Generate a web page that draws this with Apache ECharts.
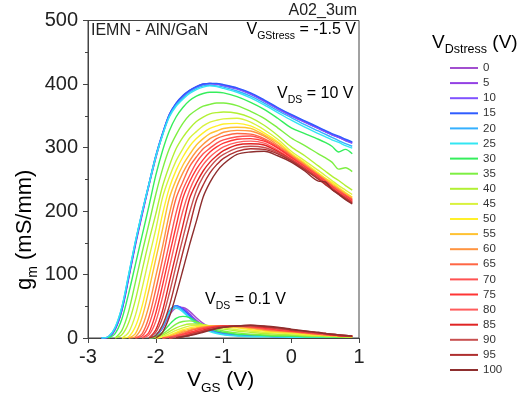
<!DOCTYPE html>
<html>
<head>
<meta charset="utf-8">
<script src="https://cdn.jsdelivr.net/npm/echarts@6/dist/echarts.min.js"></script>
<style>
html,body{margin:0;padding:0;background:#fff;}
#c{width:521px;height:408px;}
</style>
</head>
<body>
<div id="c"></div>
<script>
// Gate voltage grid (V)
const vgs = [-2.9,-2.8,-2.7,-2.6,-2.5,-2.4,-2.3,-2.2,-2.1,-2.0,-1.9,-1.8,-1.7,-1.6,-1.5,-1.4,-1.3,-1.2,-1.1,-1.0,-0.8,-0.6,-0.4,-0.2,0,0.2,0.4,0.5,0.6,0.7,0.8,0.9];
// Drain stress voltages (legend)
const stress = [0,5,10,15,20,25,30,35,40,45,50,55,60,65,70,75,80,85,90,95,100];
const xTicks = [-3,-2,-1,0,1];
const yTicks = [0,100,200,300,400,500];

// gm (mS/mm) at VDS = 10 V
const up0   = [0,0,1,13,43,93,146,194,240,283,320,350,368,380,389,395,399,401,400,398,393,384,373,361,350,340,330,325,320,316,311,307];
const up5   = [0,0,1,14,44,95,148,196,241,284,321,351,369,381,390,396,400,401,400,398,393,385,374,362,351,341,331,326,321,316,312,308];
const up10  = [0,0,1,14,45,96,149,197,242,286,322,352,369,381,389,395,399,400,400,397,392,384,373,361,350,340,330,325,320,316,311,307];
const up15  = [0,0,2,15,46,97,150,198,243,287,322,352,370,382,390,396,400,401,401,399,394,386,375,363,352,342,332,327,322,318,313,309];
const up20  = [0,0,2,16,48,99,152,199,243,286,321,350,367,378,387,393,397,398,397,395,389,381,370,358,347,336,326,321,316,311,306,302];
const up25  = [0,0,2,17,49,100,152,199,242,285,319,348,365,376,385,391,395,397,396,393,387,378,367,355,343,332,322,317,312,308,303,299];
const up30  = [0,0,0,7,30,70,116,162,208,256,295,326,348,363,374,381,385,387,387,386,380,371,360,346,331,322,313,308,302,293,297,290];
const up35  = [0,0,0,0,12,42,88,135,180,226,266,298,320,338,351,359,365,368,370,370,366,357,346,331,315,303,290,284,277,266,268,262];
const up40  = [0,0,0,0,5,24,60,107,153,195,239,271,298,316,330,341,348,353,355,356,354,347,335,319,301,287,271,263,255,248,240,233];
const up45  = [0,0,0,0,0,9,36,79,126,171,221,253,279,298,315,325,334,340,343,345,346,340,328,313,294,279,264,256,248,240,233,226];
const up50  = [0,0,0,0,0,2,18,51,97,144,195,236,264,285,302,314,323,330,334,337,338,334,323,309,291,276,260,252,245,237,229,222];
const up55  = [0,0,0,0,0,0,7,33,76,124,171,220,249,272,289,304,314,322,326,330,332,330,320,307,289,274,258,251,243,235,228,221];
const up60  = [0,0,0,0,0,0,2,18,51,97,144,195,235,260,279,294,305,314,319,324,327,326,318,304,288,273,257,249,241,234,226,219];
const up65  = [0,0,0,0,0,0,0,7,33,76,124,176,220,246,270,285,298,306,314,318,322,321,314,302,286,271,256,248,240,232,225,218];
const up70  = [0,0,0,0,0,0,0,3,21,56,102,149,197,233,256,276,290,299,307,312,317,318,312,300,285,270,255,247,239,231,224,217];
const up75  = [0,0,0,0,0,0,0,0,9,39,83,130,176,220,246,266,281,293,301,307,313,314,310,299,284,269,254,246,238,230,223,216];
const up80  = [0,0,0,0,0,0,0,0,5,26,64,110,157,200,233,256,273,285,294,301,308,310,307,296,282,268,253,245,237,229,222,215];
const up85  = [0,0,0,0,0,0,0,0,0,13,43,88,133,177,220,244,263,277,287,295,304,306,304,294,281,267,252,244,236,228,221,214];
const up90  = [0,0,0,0,0,0,0,0,0,9,32,70,114,157,198,232,254,269,281,289,299,302,300,292,280,266,251,243,235,227,220,213];
const up95  = [0,0,0,0,0,0,0,0,0,4,20,50,92,135,176,217,241,260,273,283,294,298,297,290,279,265,250,242,234,227,219,212];
const up100 = [0,0,0,0,0,0,0,0,0,0,9,33,68,107,147,184,222,245,262,274,289,293,294,287,277,263,247,246,234,226,218,211];

// gm (mS/mm) at VDS = 0.1 V
const lo0   = [0,0,0,0,0,0,0,0,0,3,15,36,47,48,42,32,23,16,11,8,5,4,3,3,2,2,2,1,1,1,1,1];
const lo5   = [0,0,0,0,0,0,0,0,0,3,16,39,50,47,38,28,20,14,10,7,5,4,3,2,2,2,1,1,1,1,1,1];
const lo10  = [0,0,0,0,0,0,0,0,0,3,17,41,51,46,36,26,19,13,9,7,5,4,3,2,2,2,1,1,1,1,1,1];
const lo15  = [0,0,0,0,0,0,0,0,0,4,18,42,51,45,35,25,18,12,9,6,4,3,3,2,2,2,1,1,1,1,1,1];
const lo20  = [0,0,0,0,0,0,0,0,0,4,19,42,50,43,33,24,17,12,8,6,4,3,3,2,2,1,1,1,1,1,1,1];
const lo25  = [0,0,0,0,0,0,0,0,0,4,18,40,47,41,31,22,15,10,7,5,3,2,2,2,1,1,1,1,1,1,1,1];
const lo30  = [0,0,0,0,0,0,0,0,0,2,9,21,31,34,32,26,20,15,11,9,6,5,4,3,3,2,2,2,2,1,1,1];
const lo35  = [0,0,0,0,0,0,0,0,0,1,6,14,22,26,27,25,21,17,14,11,8,6,5,4,4,3,3,2,2,2,2,1];
const lo40  = [0,0,0,0,0,0,0,0,0,0,4,10,16,20,22,22,21,19,16,14,11,9,7,6,5,4,3,3,3,2,2,2];
const lo45  = [0,0,0,0,0,0,0,0,0,0,2,7,12,16,19,20,20,19,18,16,13,11,9,8,7,5,4,4,3,3,2,2];
const lo50  = [0,0,0,0,0,0,0,0,0,0,1,4,9,13,16,18,19,19,19,18,16,13,11,9,8,6,5,4,4,3,3,2];
const lo55  = [0,0,0,0,0,0,0,0,0,0,0,3,7,11,14,16,18,19,19,19,17,15,12,10,9,7,5,5,4,3,3,2];
const lo60  = [0,0,0,0,0,0,0,0,0,0,0,2,5,9,12,15,17,18,19,19,18,16,13,11,10,8,6,5,4,4,3,2];
const lo65  = [0,0,0,0,0,0,0,0,0,0,0,1,4,7,11,14,16,18,19,19,19,17,14,12,10,8,6,5,5,4,3,3];
const lo70  = [0,0,0,0,0,0,0,0,0,0,0,1,3,6,9,12,15,17,18,19,19,18,15,13,11,9,7,6,5,4,3,3];
const lo75  = [0,0,0,0,0,0,0,0,0,0,0,0,2,5,8,11,14,16,18,19,19,18,16,13,11,9,7,6,5,4,3,3];
const lo80  = [0,0,0,0,0,0,0,0,0,0,0,0,2,4,7,10,13,15,17,18,19,19,17,14,12,10,7,6,5,4,3,3];
const lo85  = [0,0,0,0,0,0,0,0,0,0,0,0,1,3,6,9,12,15,17,18,19,19,17,15,12,10,8,7,5,4,3,3];
const lo90  = [0,0,0,0,0,0,0,0,0,0,0,0,1,3,5,8,11,14,16,18,19,19,18,15,13,10,8,7,6,5,4,3];
const lo95  = [0,0,0,0,0,0,0,0,0,0,0,0,0,2,4,7,10,13,15,17,19,20,18,16,13,11,8,7,6,5,4,3];
const lo100 = [0,0,0,0,0,0,0,0,0,0,0,0,0,2,4,6,9,12,15,17,19,20,19,17,14,11,9,7,6,5,4,3];

const upper = [up0,up5,up10,up15,up20,up25,up30,up35,up40,up45,up50,up55,up60,up65,up70,up75,up80,up85,up90,up95,up100];
const lower = [lo0,lo5,lo10,lo15,lo20,lo25,lo30,lo35,lo40,lo45,lo50,lo55,lo60,lo65,lo70,lo75,lo80,lo85,lo90,lo95,lo100];

const colors = ['#a24fcf','#9340e4','#8052ff','#2f5cff','#35b0ff','#33e6f2','#35ee5c','#7def42','#b2f034','#d9f23e','#fff02a','#ffc232','#ff9440','#ff6644','#ff5252','#ff3535','#ff5c5c','#e02424','#c85050','#ae2f2f','#8e2e2e'];

function pairs(arr){
  let k = 0;
  while (k < arr.length && arr[k] === 0) k++;
  const s = Math.max(0, k - 1);
  const out = [];
  for (let i = s; i < arr.length; i++) out.push([vgs[i], arr[i]]);
  return out;
}

const FONT = 'Liberation Sans, Arial, sans-serif';
const series = [];
for (let i = 0; i < stress.length; i++) {
  [lower[i], upper[i]].forEach(function(a){
    series.push({
      type: 'line', name: String(stress[i]), data: pairs(a),
      color: colors[i], symbol: 'none', showSymbol: false,
      smooth: 0.3, lineStyle: {width: 1.4, color: colors[i]},
      animation: false, z: 2
    });
  });
}

const chart = echarts.init(document.getElementById('c'), null, {renderer: 'canvas'});
const sub = function(fs, pad){ return {fontSize: fs, fontFamily: FONT, color: '#222', padding: [pad,0,0,0]}; };
chart.setOption({
  animation: false,
  backgroundColor: '#fff',
  grid: {left: 88, right: 162, top: 20.5, bottom: 70, show: true, borderColor: '#444', borderWidth: 1, backgroundColor: 'transparent'},
  xAxis: {
    type: 'value', min: xTicks[0], max: xTicks[xTicks.length-1], interval: 1,
    axisLine: {onZero: false, lineStyle: {color: '#444', width: 1}},
    axisTick: {show: true, length: 5, lineStyle: {color: '#444'}},
    splitLine: {show: false},
    axisLabel: {fontSize: 20, color: '#222', fontFamily: FONT, margin: 9}
  },
  yAxis: {
    type: 'value', min: yTicks[0], max: yTicks[yTicks.length-1], interval: 100,
    axisLine: {show: true, onZero: false, lineStyle: {color: '#444', width: 1}},
    axisTick: {show: true, length: 5, lineStyle: {color: '#444'}},
    minorTick: {show: true, splitNumber: 2, length: 3, lineStyle: {color: '#444'}},
    splitLine: {show: false},
    axisLabel: {fontSize: 20, color: '#222', fontFamily: FONT, margin: 10}
  },
  legend: {
    data: stress.map(String), orient: 'vertical', left: 450, top: 61.5, padding: 0,
    icon: 'rect', itemWidth: 28, itemHeight: 2, itemGap: 2.1,
    textStyle: {fontSize: 11.5, color: '#333', fontFamily: FONT, lineHeight: 13},
    selectedMode: false
  },
  graphic: [
    {type: 'text', right: 164, top: 3, style: {text: 'A02_3um', font: '16px ' + FONT, fill: '#222'}},
    {type: 'text', left: 91, top: 23, style: {text: 'IEMN - AlN/GaN', font: '16px ' + FONT, fill: '#222'}},
    {type: 'text', right: 165, top: 22, style: {text: '{a|V}{b|GStress}{a| = -1.5 V}', rich: {a: {fontSize: 16, fontFamily: FONT, color: '#222'}, b: sub(10.5, 12)}}},
    {type: 'text', left: 277, top: 86, style: {text: '{a|V}{b|DS}{a| = 10 V}', rich: {a: {fontSize: 16, fontFamily: FONT, color: '#222'}, b: sub(10.5, 12)}}},
    {type: 'text', left: 205, top: 292, style: {text: '{a|V}{b|DS}{a| = 0.1 V}', rich: {a: {fontSize: 16, fontFamily: FONT, color: '#222'}, b: sub(10.5, 12)}}},
    {type: 'text', left: 432, top: 33, style: {text: '{a|V}{b|Dstress}{a| (V)}', rich: {a: {fontSize: 19, fontFamily: FONT, color: '#222'}, b: sub(12.5, 14)}}},
    {type: 'text', left: 187, top: 370, style: {text: '{a|V}{b|GS}{a| (V)}', rich: {a: {fontSize: 21, fontFamily: FONT, color: '#222'}, b: sub(13.5, 16)}}},
    {type: 'text', x: 10, y: 290, rotation: Math.PI/2, style: {text: '{a|g}{b|m}{a| (mS/mm)}', rich: {a: {fontSize: 22, fontFamily: FONT, color: '#222'}, b: sub(14, 16)}}}
  ],
  series: series
});
</script>
</body>
</html>
